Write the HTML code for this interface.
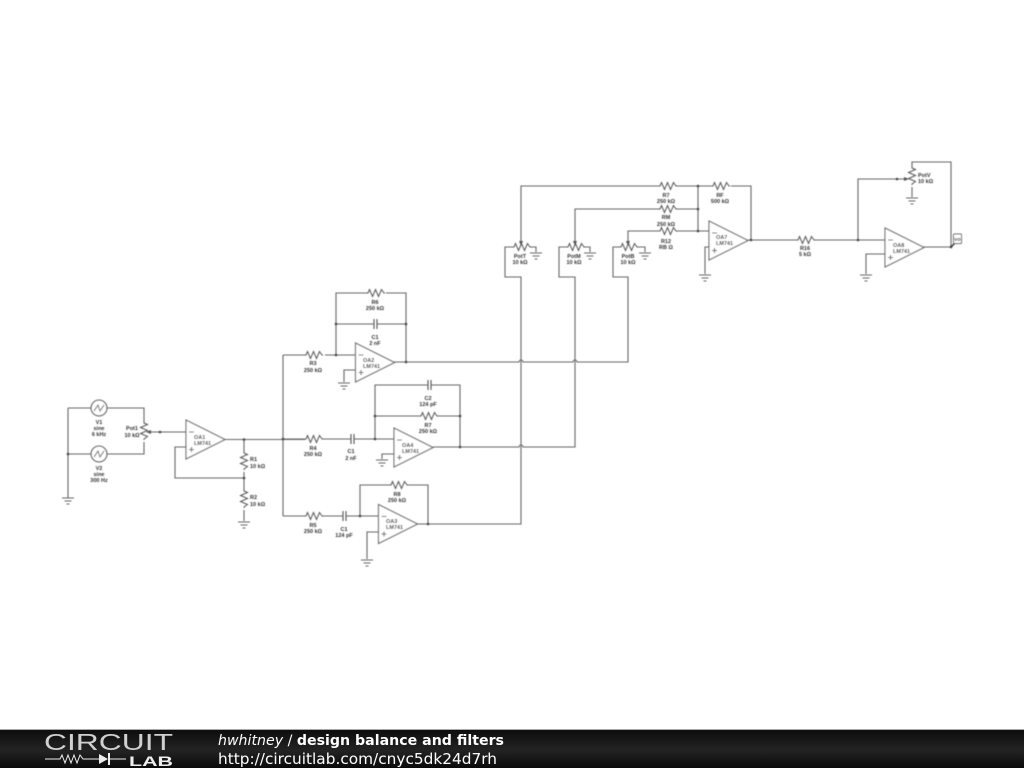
<!DOCTYPE html>
<html><head><meta charset="utf-8"><style>
html,body{margin:0;padding:0;background:#fff;width:1024px;height:768px;overflow:hidden}
svg{display:block}
.w{fill:none;stroke:#666;stroke-width:1.100}
.t text{font-family:"Liberation Sans",sans-serif;font-size:5.500px;font-weight:bold;fill:#333;text-anchor:middle}
.n{fill:#444}
.o text{font-family:"Liberation Sans",sans-serif;font-size:5.500px;font-weight:bold;fill:#333}
</style></head><body>
<svg width="1024" height="768" viewBox="0 0 1024 768" xmlns="http://www.w3.org/2000/svg">
<defs>
<filter id="b" x="0" y="0" width="1024" height="768" filterUnits="userSpaceOnUse"><feGaussianBlur stdDeviation="0.400"/></filter>
<path id="rh" d="M0 0h1l1.500-3.500 3 7 3-7 3 7 3-7 2.500 3.500h1" fill="none" stroke="#555" stroke-width="1"/>
<path id="rv" d="M0 0v1l3.500 1.500-7 3 7 3-7 3 7 3-3.500 2.500v1" fill="none" stroke="#555" stroke-width="1"/>
<path id="g" d="M-6 0h12M-3.500 3h7M-1.500 6h3" fill="none" stroke="#666" stroke-width="1"/>
<path id="oa" d="M0 0V39L39 19.500Z M3 12h5M3 29.500h5M5.500 27v5" fill="#fff" stroke="#666" stroke-width="1.100"/>
<linearGradient id="f" x1="0" y1="0" x2="0" y2="1"><stop offset="0" stop-color="#0c0c0c"/><stop offset=".55" stop-color="#232323"/><stop offset="1" stop-color="#0a0a0a"/></linearGradient>
</defs>
<rect width="1024" height="768" fill="#fff"/>

<g filter="url(#b)">
<path class="w" d="M68 408V498M68 408H91M107 408H144V422M144 442V454H107M91 454H68M148 432H186M225 439.500H305M244 439.500V452M244 472V490M244 510V521M186 447H175V478H244M283 355V516M283 355H305M325 355H356M336 355V293H367M386 293H406V362M336 324H373.500M377.500 324H406M356 370H344V382M394 362H519A2 2 0 0 1 523 362H573A2 2 0 0 1 577 362H628V277H613V247H620M283 439H305M323 439H350.500M354 439H394M375 439V385H427.500M431.500 385H460V447M375 416H420M438 416H460M394 454H382V459M433 447H519A2 2 0 0 1 523 447H575V277H559V247H567M283 516H305M323 516H342.500M346 516H378M360 516V485H390M407 485H428V524M378 532H367V559M417 524H521V277H505V247H513M530 247H536V252M584 247H590V252M637 247H645V252M521 243V186H659M677 186H712M731 186H751V240M575 243V209H659M677 209H698M628 243V231H659M677 231H709M698 186V231M709 247H705V274M748 240H797M814 240H885M858 240V179H907M912 167V162H951V247M912 187V197M924 247H951M885 254H866V274"/>

<use href="#g" x="68" y="498"/><use href="#g" x="244" y="522"/><use href="#g" x="344" y="383"/><use href="#g" x="382" y="460"/><use href="#g" x="367" y="560"/><use href="#g" x="536" y="253"/><use href="#g" x="590" y="253"/><use href="#g" x="645" y="253"/><use href="#g" x="705" y="275"/><use href="#g" x="866" y="275"/><use href="#g" x="912" y="198"/>

<g fill="none" stroke="#666" stroke-width="1.100"><circle cx="99" cy="408" r="8"/><circle cx="99" cy="454" r="8"/><path d="M94 411L98 405 100 411 104 405M94 457L98 451 100 457 104 451" stroke-width=".8"/></g>

<use href="#rv" x="144" y="422"/><use href="#rv" x="244" y="452"/><use href="#rv" x="244" y="490"/><use href="#rv" x="912" y="167"/>
<use href="#rh" x="305" y="355"/><use href="#rh" x="367" y="293"/><use href="#rh" x="305" y="439"/><use href="#rh" x="420" y="416"/><use href="#rh" x="305" y="516"/><use href="#rh" x="390" y="485"/><use href="#rh" x="659" y="186"/><use href="#rh" x="712" y="186"/><use href="#rh" x="659" y="209"/><use href="#rh" x="659" y="231"/><use href="#rh" x="797" y="240"/><use href="#rh" x="513" y="247"/><use href="#rh" x="567" y="247"/><use href="#rh" x="620" y="247"/>

<g fill="#555"><path d="M146 432l5-2v4zM521 246l-2-5h4zM575 246l-2-5h4zM628 246l-2-5h4zM909 179l-5-2v4z"/></g>

<g stroke="#555" stroke-width="1.100"><path d="M374 319v10M377 319v10M351 434v10M354 434v10M428 380v10M431 380v10M343 511v10M346 511v10"/></g>

<use href="#oa" x="186" y="420"/><use href="#oa" x="355.500" y="343"/><use href="#oa" x="394" y="428"/><use href="#oa" x="378.500" y="504.500"/><use href="#oa" x="709" y="221"/><use href="#oa" x="885" y="228"/>

<g class="n"><circle cx="160" cy="432" r="1.300"/><circle cx="244" cy="439.500" r="1.300"/><circle cx="244" cy="478" r="1.300"/><circle cx="68" cy="454" r="1.300"/><circle cx="283" cy="439" r="1.300"/><circle cx="336" cy="355" r="1.300"/><circle cx="336" cy="324" r="1.300"/><circle cx="406" cy="324" r="1.300"/><circle cx="406" cy="362" r="1.300"/><circle cx="375" cy="439" r="1.300"/><circle cx="375" cy="416" r="1.300"/><circle cx="460" cy="416" r="1.300"/><circle cx="460" cy="447" r="1.300"/><circle cx="360" cy="516" r="1.300"/><circle cx="428" cy="524" r="1.300"/><circle cx="698" cy="186" r="1.300"/><circle cx="698" cy="209" r="1.300"/><circle cx="698" cy="231" r="1.300"/><circle cx="751" cy="240" r="1.300"/><circle cx="858" cy="240" r="1.300"/><circle cx="897" cy="179" r="1.300"/><circle cx="951" cy="247" r="1.300"/></g>

<path d="M951 247L955 243" stroke="#333" stroke-width="1.500"/>
<rect x="953.500" y="234" width="8" height="9.500" rx="1" fill="#fff" stroke="#555" stroke-width=".9"/>

<g class="t">
<text x="99" y="424">V1</text><text x="99" y="430">sine</text><text x="99" y="436">6 kHz</text>
<text x="99" y="470">V2</text><text x="99" y="476">sine</text><text x="99" y="482">300 Hz</text>
<text x="132" y="430">Pot1</text><text x="132" y="437">10 kΩ</text>
<text x="375" y="304">R6</text><text x="375" y="310">250 kΩ</text>
<text x="375" y="339">C1</text><text x="375" y="345">2 nF</text>
<text x="313" y="365">R3</text><text x="313" y="372">250 kΩ</text>
<text x="428" y="400">C2</text><text x="428" y="406">124 pF</text>
<text x="428" y="427">R7</text><text x="428" y="433">250 kΩ</text>
<text x="313" y="450">R4</text><text x="313" y="456">250 kΩ</text>
<text x="351" y="453">C1</text><text x="351" y="460">2 nF</text>
<text x="397" y="496">R8</text><text x="397" y="502">250 kΩ</text>
<text x="313" y="527">R5</text><text x="313" y="533">250 kΩ</text>
<text x="344" y="531">C1</text><text x="344" y="537">124 pF</text>
<text x="520" y="258">PotT</text><text x="520" y="264">10 kΩ</text>
<text x="574" y="258">PotM</text><text x="574" y="264">10 kΩ</text>
<text x="628" y="258">PotB</text><text x="628" y="264">10 kΩ</text>
<text x="666" y="197">R7</text><text x="666" y="203">250 kΩ</text>
<text x="666" y="219">RM</text><text x="666" y="226">250 kΩ</text>
<text x="666" y="243">R12</text><text x="666" y="249">RB Ω</text>
<text x="720" y="197">RF</text><text x="720" y="203">500 kΩ</text>
<text x="805" y="250">R16</text><text x="805" y="256">5 kΩ</text>
<text x="957.500" y="241">vo</text>
</g>
<g class="o">
<text x="250" y="461">R1</text><text x="250" y="468">10 kΩ</text>
<text x="250" y="499">R2</text><text x="250" y="506">10 kΩ</text>
<text x="918" y="177">PotV</text><text x="918" y="183">10 kΩ</text>
<text x="194" y="439">OA1</text><text x="194" y="445">LM741</text>
<text x="363" y="362">OA2</text><text x="363" y="368">LM741</text>
<text x="402" y="447">OA4</text><text x="402" y="453">LM741</text>
<text x="386" y="523">OA3</text><text x="386" y="529">LM741</text>
<text x="716" y="239">OA7</text><text x="716" y="245">LM741</text>
<text x="893" y="247">OA8</text><text x="893" y="253">LM741</text>
</g>
</g>

<rect x="0" y="729" width="1024" height="39" fill="url(#f)"/>
<rect x="0" y="729" width="1024" height="1" fill="#aaa"/>
<text x="44" y="750" font-family="Liberation Sans,sans-serif" font-size="23.500" fill="#d0d0d0" textLength="129" lengthAdjust="spacingAndGlyphs">CIRCUIT</text>
<path d="M45 759H60L62 755 65 763 68 755 71 763 74 755 77 763 80 755 83 759H99M110 759H126" fill="none" stroke="#eee" stroke-width="1"/>
<path d="M99 754L108 759 99 764Z" fill="#eee"/><path d="M109 753V765" stroke="#eee" stroke-width="2"/>
<text x="129" y="766" font-family="Liberation Sans,sans-serif" font-size="14" font-weight="bold" fill="#eee" textLength="44" lengthAdjust="spacingAndGlyphs">LAB</text>
<text x="218" y="745" font-family="DejaVu Sans,sans-serif" font-size="14" fill="#fff" textLength="286" lengthAdjust="spacingAndGlyphs"><tspan font-style="italic">hwhitney</tspan> / <tspan font-weight="bold">design balance and filters</tspan></text>
<text x="218" y="764" font-family="DejaVu Sans,sans-serif" font-size="15" fill="#fff" textLength="279" lengthAdjust="spacingAndGlyphs">http://circuitlab.com/cnyc5dk24d7rh</text>
</svg>
</body></html>
